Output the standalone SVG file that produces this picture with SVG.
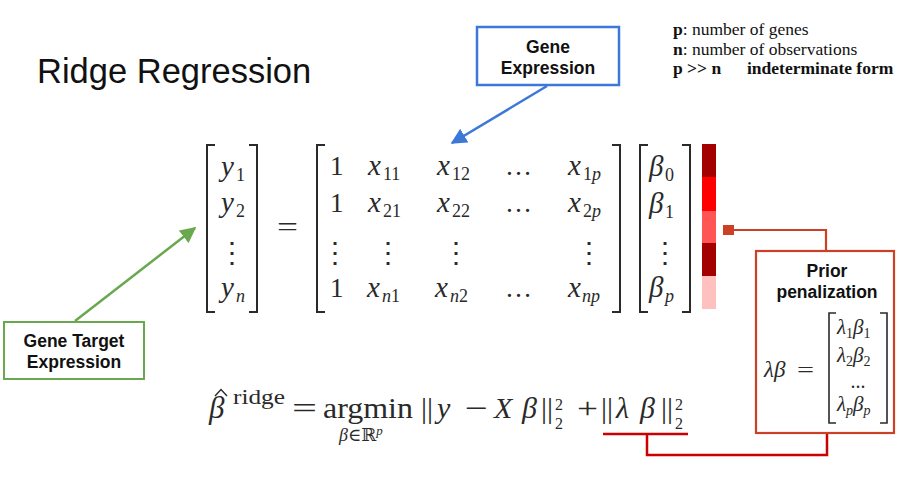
<svg xmlns="http://www.w3.org/2000/svg" width="904" height="486" viewBox="0 0 904 486">
<defs>
<style>
.lbl{font-family:"Liberation Sans",Arial,sans-serif;font-weight:bold;font-size:17.5px;fill:#111;text-anchor:middle}
.m{font-family:"Liberation Serif","DejaVu Serif",serif;fill:#2a2a2a}
.i{font-style:italic}
.v{font-style:italic;font-size:29px}
.d{font-size:27px}
.s{font-size:18px}
.br{fill:none;stroke:#2a2a2a;stroke-width:2}
.note{font-family:"Liberation Serif","DejaVu Serif",serif;font-size:17.5px;fill:#111}
</style>
<marker id="ab" viewBox="0 0 10 10" refX="9" refY="5" markerWidth="16" markerHeight="16" markerUnits="userSpaceOnUse" orient="auto"><path d="M0,0 L10,5 L0,10 z" fill="#3c78d8"/></marker>
<marker id="ag" viewBox="0 0 10 10" refX="9" refY="5" markerWidth="16" markerHeight="16" markerUnits="userSpaceOnUse" orient="auto"><path d="M0,0 L10,5 L0,10 z" fill="#6aa84f"/></marker>
</defs>
<rect width="904" height="486" fill="#fff"/>

<g id="title"><text x="37" y="83" font-family="Liberation Sans,Arial,sans-serif" font-size="34.5" fill="#111">Ridge Regression</text></g>

<g id="notes">
<text class="note" x="673" y="35"><tspan font-weight="bold">p</tspan>: number of genes</text>
<text class="note" x="673" y="55"><tspan font-weight="bold">n</tspan>: number of observations</text>
<text class="note" x="673" y="74" font-weight="bold">p &gt;&gt; n</text>
<text class="note" x="747" y="74" font-weight="bold">indeterminate form</text>
</g>

<g id="connectors">
<line x1="547" y1="86" x2="452" y2="143" stroke="#3c78d8" stroke-width="2.5" marker-end="url(#ab)"/>
<line x1="75" y1="321" x2="195" y2="228" stroke="#6aa84f" stroke-width="2.5" marker-end="url(#ag)"/>
<rect x="723" y="225" width="11" height="10" fill="#cc4125"/>
<path d="M734,230 H826 V251" fill="none" stroke="#cc4125" stroke-width="2.2"/>
<path d="M603,434 H688" fill="none" stroke="#cc0000" stroke-width="2.5"/>
<path d="M647,434 V455 H827 V433" fill="none" stroke="#cc0000" stroke-width="2.5"/>
</g>

<g id="gene-expression">
<rect x="477" y="27" width="142" height="58" fill="#fff" stroke="#3c78d8" stroke-width="2.5"/>
<text class="lbl" x="548" y="53">Gene</text>
<text class="lbl" x="548" y="74">Expression</text>
</g>

<g id="gene-target">
<rect x="4" y="322" width="140" height="57" fill="#fff" stroke="#6aa84f" stroke-width="2"/>
<text class="lbl" x="74" y="347">Gene Target</text>
<text class="lbl" x="74" y="368">Expression</text>
</g>

<g id="matrix-equation">
<path class="br" d="M215,145 H207 V312 H215"/>
<path class="br" d="M249,145 H257 V312 H249"/>
<text class="m v" x="221" y="176">y</text><text class="m s" x="236" y="181">1</text>
<text class="m v" x="221" y="212">y</text><text class="m s" x="236" y="217">2</text>
<text class="m v" x="221" y="297">y</text><text class="m s i" x="236" y="302">n</text>

<text class="m" font-size="28" x="277" y="236" textLength="21" lengthAdjust="spacingAndGlyphs">=</text>

<path class="br" d="M325,145 H317 V312 H325"/>
<path class="br" d="M612,145 H620 V312 H612"/>
<text class="m d" x="330" y="175">1</text>
<text class="m d" x="330" y="212">1</text>
<text class="m d" x="330" y="297">1</text>
<text class="m v" x="368" y="175">x</text><text class="m s" x="383" y="180">11</text>
<text class="m v" x="437" y="175">x</text><text class="m s" x="452" y="180">12</text>
<text class="m d" x="505" y="175">…</text>
<text class="m v" x="568" y="175">x</text><text class="m s" x="583" y="180">1<tspan font-style="italic">p</tspan></text>
<text class="m v" x="368" y="212">x</text><text class="m s" x="383" y="217">21</text>
<text class="m v" x="437" y="212">x</text><text class="m s" x="452" y="217">22</text>
<text class="m d" x="505" y="212">…</text>
<text class="m v" x="568" y="212">x</text><text class="m s" x="583" y="217">2<tspan font-style="italic">p</tspan></text>
<text class="m v" x="367" y="297">x</text><text class="m s" x="382" y="302"><tspan font-style="italic">n</tspan>1</text>
<text class="m v" x="435" y="297">x</text><text class="m s" x="450" y="302"><tspan font-style="italic">n</tspan>2</text>
<text class="m d" x="505" y="297">…</text>
<text class="m v" x="568" y="297">x</text><text class="m s i" x="582" y="302">np</text>

<g font-family="DejaVu Serif,serif" font-size="28" fill="#2a2a2a" text-anchor="middle">
<text x="232" y="262">⋮</text><text x="335" y="262">⋮</text><text x="388" y="262">⋮</text><text x="456" y="262">⋮</text><text x="589" y="262">⋮</text><text x="665" y="262">⋮</text>
</g>

<path class="br" d="M648,145 H640 V312 H648"/>
<path class="br" d="M682,145 H690 V312 H682"/>
<text class="m v" x="649" y="176">β</text><text class="m s" x="665" y="181">0</text>
<text class="m v" x="649" y="213">β</text><text class="m s" x="665" y="218">1</text>
<text class="m v" x="649" y="297">β</text><text class="m s i" x="665" y="302">p</text>
</g>

<g id="weight-bar">
<rect x="702" y="144" width="14" height="33" fill="#a30000"/>
<rect x="702" y="177" width="14" height="34" fill="#ff0000"/>
<rect x="702" y="211" width="14" height="32" fill="#ff5555"/>
<rect x="702" y="243" width="14" height="33" fill="#a30000"/>
<rect x="702" y="276" width="14" height="33" fill="#ffc0c0"/>
</g>

<g id="prior-penalization">
<rect x="756" y="251" width="138" height="182" fill="#fff" stroke="#cc4125" stroke-width="2.2"/>
<text class="lbl" x="827" y="277">Prior</text>
<text class="lbl" x="827" y="298">penalization</text>
<text class="m i" font-size="23" x="764" y="377">λβ</text><text class="m" font-size="22" x="797" y="377" textLength="17" lengthAdjust="spacingAndGlyphs">=</text>
<path class="br" d="M836,313 H829 V423 H836" style="stroke-width:1.6"/>
<path class="br" d="M880,313 H887 V423 H880" style="stroke-width:1.6"/>
<text class="m" font-size="21" x="837" y="334"><tspan font-style="italic">λ</tspan><tspan font-size="14" dy="4">1</tspan><tspan font-style="italic" dy="-4">β</tspan><tspan font-size="14" dy="4">1</tspan></text>
<text class="m" font-size="21" x="837" y="362"><tspan font-style="italic">λ</tspan><tspan font-size="14" dy="4">2</tspan><tspan font-style="italic" dy="-4">β</tspan><tspan font-size="14" dy="4">2</tspan></text>
<text class="m" font-size="20" x="858" y="388" text-anchor="middle">...</text>
<text class="m" font-size="21" x="837" y="411"><tspan font-style="italic">λ</tspan><tspan font-size="14" dy="4" font-style="italic">p</tspan><tspan font-style="italic" dy="-4">β</tspan><tspan font-size="14" dy="4" font-style="italic">p</tspan></text>
</g>

<g id="objective">
<text class="m i" font-size="31" x="209" y="418">β</text>
<path d="M215,396 L221,389.5 L227,396" fill="none" stroke="#2a2a2a" stroke-width="1.4"/>
<text class="m" font-size="21" x="233" y="404" textLength="52" lengthAdjust="spacingAndGlyphs">ridge</text>
<text class="m" font-size="30" x="292" y="418" textLength="25" lengthAdjust="spacingAndGlyphs">=</text>
<text class="m" font-size="30" x="323" y="418" textLength="90" lengthAdjust="spacingAndGlyphs">argmin</text>
<text class="m" font-size="18" x="339" y="441"><tspan font-style="italic">β</tspan>∈<tspan font-family="DejaVu Serif,serif">ℝ</tspan><tspan font-style="italic" font-size="13" dy="-6">p</tspan></text>
<text class="m" font-size="30" x="421" y="418">||</text>
<text class="m i" font-size="30" x="437" y="418">y</text>
<text class="m" font-size="30" x="465" y="418" textLength="23" lengthAdjust="spacingAndGlyphs">−</text>
<text class="m i" font-size="30" x="494" y="418">X</text>
<text class="m i" font-size="30" x="522" y="418">β</text>
<text class="m" font-size="30" x="541" y="418">||</text>
<text class="m" font-size="16" x="555" y="410">2</text>
<text class="m" font-size="16" x="555" y="429">2</text>
<text class="m" font-size="30" x="577" y="418" textLength="21" lengthAdjust="spacingAndGlyphs">+</text>
<text class="m" font-size="30" x="601" y="418">||</text>
<text class="m i" font-size="30" x="616" y="418">λ</text>
<text class="m i" font-size="30" x="640" y="418">β</text>
<text class="m" font-size="30" x="661" y="418">||</text>
<text class="m" font-size="16" x="675" y="410">2</text>
<text class="m" font-size="16" x="675" y="429">2</text>
</g>
</svg>
